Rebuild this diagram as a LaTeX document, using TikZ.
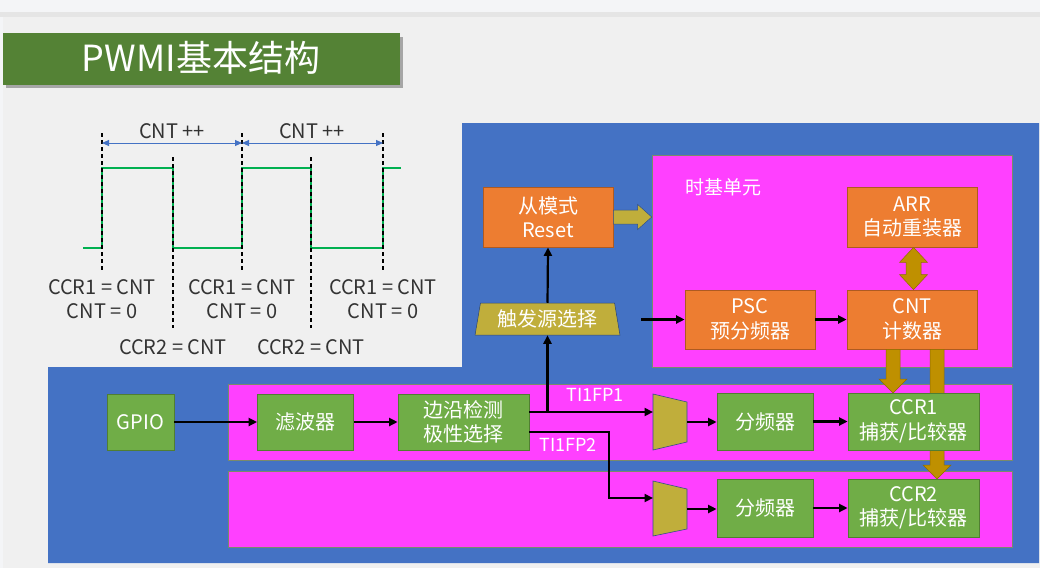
\documentclass[tikz,border=0pt]{standalone}
\usepackage{fontspec}
\setmainfont{Noto Sans CJK SC}
\usetikzlibrary{arrows.meta,calc,shapes.geometric}
\definecolor{topbg}{HTML}{F4F5F7}
\definecolor{slidebg}{HTML}{F0F0F0}
\definecolor{titlegreen}{HTML}{548235}
\definecolor{bgblue}{HTML}{4472C4}
\definecolor{magent}{HTML}{FF40FF}
\definecolor{magborder}{HTML}{7A8A6A}
\definecolor{orangeF}{HTML}{ED7D31}
\definecolor{orangeD}{HTML}{AE5A21}
\definecolor{greenF}{HTML}{70AD47}
\definecolor{greenD}{HTML}{507E32}
\definecolor{oliveF}{HTML}{C0AE3B}
\definecolor{goldF}{HTML}{BF9000}
\definecolor{goldD}{HTML}{8F6C00}
\definecolor{wavegreen}{HTML}{00B050}
\definecolor{wavetext}{HTML}{333333}
\definecolor{lightblue}{HTML}{4472C4}
\begin{document}
\begin{tikzpicture}[x=1pt,y=-1pt,
  box/.style={draw, line width=0.8pt, text=white, align=center, inner sep=0pt,
    font=\fontsize{20}{24.5}\selectfont},
  obox/.style={box, fill=orangeF, draw=orangeD},
  gbox/.style={box, fill=greenF, draw=greenD},
  mbox/.style={fill=magent, draw=magborder, line width=0.6pt, inner sep=0pt},
  wire/.style={line width=2.2pt, -{Triangle[length=8.5pt,width=8pt]}},
  fat/.style={fill=goldF, draw=goldD, line width=0.5pt},
  olivefat/.style={fill=oliveF, draw=bgblue!70!black, line width=0.5pt},
  wtext/.style={text=wavetext, font=\fontsize{20}{24}\selectfont, inner sep=0pt, align=center},
  dashline/.style={black, line width=1.2pt, dash pattern=on 4pt off 3pt},
  lbl/.style={text=white, font=\fontsize{18}{22}\selectfont, inner sep=0pt}
]
\useasboundingbox (0,0) rectangle (1040,568);
% background
\fill[topbg] (0,0) rectangle (1040,568);
\fill[black!10] (0,12) rectangle (1040,17);
\fill[slidebg] (3,17) rectangle (1040,568);
% title
\fill[black!35] (6,37) rectangle (403,88);
\fill[titlegreen] (3,33) rectangle (400,85);
\node[text=white, font=\fontsize{36}{40}\selectfont, inner sep=0pt] (title) at (201,58) {PWMI基本结构};

% waveform
\draw[wavegreen, line width=2.4pt] (83,248) -- (102,248) -- (102,168) -- (173,168) -- (173,248) -- (242,248) -- (242,168) -- (311,168) -- (311,248) -- (383,248) -- (383,168) -- (401,168);
\foreach \x in {102,242,383} \draw[dashline] (\x,133) -- (\x,272);
\foreach \x in {173,311} \draw[dashline] (\x,157) -- (\x,328);
\coordinate (d1) at (102,143);
\coordinate (d2) at (242,143);
\coordinate (d3) at (383,143);
\draw[lightblue, line width=0.9pt, {Triangle[length=7pt,width=6pt]}-{Triangle[length=7pt,width=6pt]}] (d1) -- (d2);
\draw[lightblue, line width=0.9pt, {Triangle[length=7pt,width=6pt]}-{Triangle[length=7pt,width=6pt]}] (d2) -- (d3);
\node[wtext] (cp1) at (172,131) {CNT ++};
\node[wtext] (cp2) at (312,131) {CNT ++};
\foreach \x/\n in {102/a,242/b,383/c} {
  \node[wtext] (ccr1\n) at (\x,287) {CCR1 = CNT};
  \node[wtext] (cnt0\n) at (\x,311) {CNT = 0};
}
\node[wtext] (ccr2a) at (173,347) {CCR2 = CNT};
\node[wtext] (ccr2b) at (311,347) {CCR2 = CNT};

% blue area
\fill[bgblue] (462,123) -- (1039,123) -- (1039,563) -- (48,563) -- (48,367) -- (462,367) -- cycle;

% magenta areas
\node[mbox, minimum width=360pt, minimum height=212pt] (tb) at (832,261) {};
\node[text=white, font=\fontsize{19}{22}\selectfont, inner sep=0pt] (tblabel) at (723,187) {时基单元};
\node[mbox, minimum width=784pt, minimum height=76pt] (band1) at (620,422) {};
\node[mbox, minimum width=784pt, minimum height=76pt] (band2) at (620,509) {};

% nodes
\node[obox, minimum width=130pt, minimum height=60pt] (slave) at (548,217) {从模式\\Reset};
\node[obox, minimum width=130pt, minimum height=60pt] (arr) at (912,217) {ARR\\自动重装器};
\node[obox, minimum width=130pt, minimum height=59pt] (psc) at (750,319.5) {PSC\\预分频器};
\node[obox, minimum width=130pt, minimum height=59pt] (cnt) at (912,319.5) {CNT\\计数器};
\node[trapezium, trapezium left angle=77.7, trapezium right angle=77.7, trapezium stretches=true,
  minimum width=145pt, minimum height=32pt, fill=oliveF, draw=bgblue!60!black, line width=0.5pt,
  text=white, inner sep=0pt, font=\fontsize{20}{22}\selectfont] (trig) at (547.5,319) {触发源选择};

\node[gbox, minimum width=67pt, minimum height=56pt] (gpio) at (140.5,422) {GPIO};
\node[gbox, minimum width=96pt, minimum height=56pt] (filt) at (305.5,422) {滤波器};
\node[gbox, minimum width=131pt, minimum height=56pt] (edge) at (463.5,422) {边沿检测\\极性选择};

% fat arrows (behind CCR boxes)
\fill[fat] let \p1=([xshift=-19pt]cnt.south), \p2=(\x1,-393pt) in
  (\x1-7pt,\y1) -- (\x1+7pt,\y1) -- (\x1+7pt,\y2+14pt) -- (\x1+14pt,\y2+14pt) -- (\x1,\y2)
  -- (\x1-14pt,\y2+14pt) -- (\x1-7pt,\y2+14pt) -- cycle;
\fill[fat] let \p1=([xshift=25pt]cnt.south), \p2=(\x1,-479pt) in
  (\x1-7pt,\y1) -- (\x1+7pt,\y1) -- (\x1+7pt,\y2+14pt) -- (\x1+14pt,\y2+14pt) -- (\x1,\y2)
  -- (\x1-14pt,\y2+14pt) -- (\x1-7pt,\y2+14pt) -- cycle;
% ARR <-> CNT
\fill[fat] let \p1=(arr.south), \p2=(cnt.north) in
  (\x1+1.5pt,\y1) -- (\x1+15.5pt,\y1-15pt) -- (\x1+9pt,\y1-15pt) -- (\x1+9pt,\y2+15pt) -- (\x1+15.5pt,\y2+15pt)
  -- (\x1+1.5pt,\y2) -- (\x1-12.5pt,\y2+15pt) -- (\x1-6pt,\y2+15pt) -- (\x1-6pt,\y1-15pt) -- (\x1-12.5pt,\y1-15pt) -- cycle;
% slave -> time base
\fill[olivefat] let \p1=(slave.east), \p2=(tb.west) in
  (\x1,\y1+7pt) -- (\x2-14pt,\y1+7pt) -- (\x2-14pt,\y1+12.5pt) -- (\x2,\y1) -- (\x2-14pt,\y1-12.5pt)
  -- (\x2-14pt,\y1-7pt) -- (\x1,\y1-7pt) -- cycle;

\node[gbox, minimum width=96pt, minimum height=57pt] (div1) at (765,421.5) {分频器};
\node[gbox, minimum width=131pt, minimum height=57pt] (ccr1) at (913.5,421.5) {CCR1\\捕获/比较器};
\node[gbox, minimum width=96pt, minimum height=58pt] (div2) at (765,508) {分频器};
\node[gbox, minimum width=131pt, minimum height=58pt] (ccr2) at (913.5,508) {CCR2\\捕获/比较器};

% mux trapezoids
\coordinate (mux1w) at (653,412);
\coordinate (mux1e) at (687,422);
\coordinate (mux2w) at (653,498);
\coordinate (mux2e) at (687,509);
\fill[oliveF, draw=bgblue!70!black, line width=0.6pt] (653,394) -- (687,402) -- (687,442) -- (653,450) -- cycle;
\fill[oliveF, draw=bgblue!70!black, line width=0.6pt] (653,481) -- (687,489) -- (687,529) -- (653,536) -- cycle;

% connectors
\draw[wire] (gpio) -- (filt);
\draw[wire] (filt) -- (edge);
\coordinate (e1) at ([yshift=10pt]edge.east);
\coordinate (e2) at ([yshift=-10pt]edge.east);
\coordinate (bend1) at (609,432);
\coordinate (bend2) at (609,498);
\draw[wire] (e1) -- (mux1w);
\draw[wire] (e2) -- (bend1) -- (bend2) -- (mux2w);
\draw[wire] (trig.south |- e1) -- (trig.south);
\draw[wire] (trig.north) -- (slave.south);
\coordinate (tbin) at (641,319.5);
\draw[wire] (tbin) -- (psc.west);
\draw[wire] (psc) -- (cnt);
\draw[wire] (mux1e) -- (mux1e -| div1.west);
\draw[wire] (mux2e) -- (mux2e -| div2.west);
\draw[wire] (div1) -- (ccr1);
\draw[wire] (div2) -- (ccr2);

\node[lbl] (tifp1) at (595,395) {TI1FP1};
\node[lbl] (tifp2) at (568,445) {TI1FP2};
\end{tikzpicture}
\end{document}
